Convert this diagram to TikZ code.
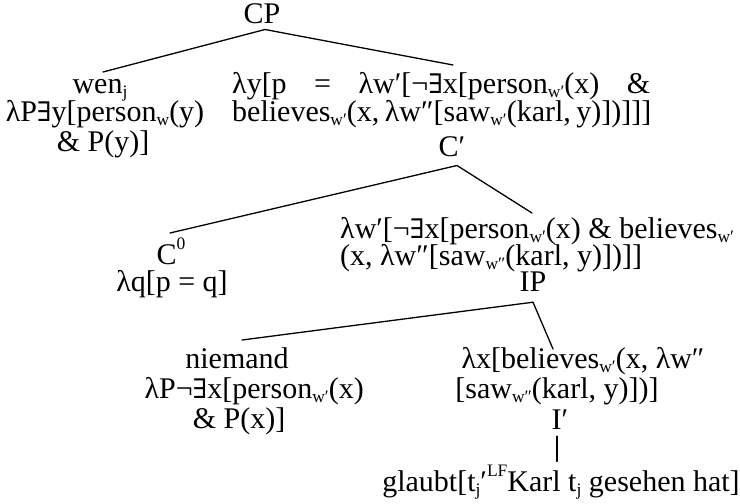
\documentclass[tikz,border=0pt]{standalone}
\usepackage{fontspec}
\setmainfont{Liberation Serif}
\newfontfamily\exfont{DejaVu Serif}[Scale=0.9]
\newcommand\lsub[1]{\raisebox{-0.16em}{\fontsize{17.5}{17.5}\selectfont #1}}
\newcommand\lsup[1]{\raisebox{0.5em}{\fontsize{17.5}{17.5}\selectfont #1}}
\newcommand\ex{{\exfont ∃}}
\newcommand\txtfont{\fontsize{30}{30}\selectfont}
\begin{document}
\begin{tikzpicture}[x=1pt,y=-1pt,
  lbl/.style={font=\txtfont, inner sep=0pt, anchor=base},
  lbll/.style={lbl, anchor=base west},
  lblr/.style={lbl, anchor=base east},
  edge/.style={line width=1.3pt, line cap=round}]
\useasboundingbox (0,0) rectangle (740,504);
% CP
\node[lbl] (cp) at (262,23) {CP};
\coordinate (cpL) at (103,72);
\coordinate (cpR) at (453,65);
% left daughter of CP
\node[lbl] (wen) at (100,93) {wen\lsub{j}};
\node[lbl] (wenA) at (105,121) {λP\ex y[person\lsub{w}(y)};
\node[lbl] (wenB) at (103,151) {\& P(y)]};
% right daughter of CP
\node[lbll] (ry1) at (232,93) {\makebox[418pt][s]{λy[p = λw′[¬\ex x[person\lsub{w′}(x) \&}};
\node[lbll] (ry2) at (232,121) {\makebox[418pt][s]{believes\lsub{w′}(x, λw″[saw\lsub{w′}(karl, y)])]]]}};
\node[lbl] (cbar) at (452,156) {C′};
\coordinate (cbL) at (170,233);
\coordinate (cbR) at (532,213);
% C0
\node[lbl] (c0) at (171,264) {C\lsup{0}};
\node[lbl] (c0a) at (172,291) {λq[p = q]};
% right daughter of C'
\node[lbll] (rw1) at (340,238) {λw′[¬\ex x[person\lsub{w′}(x) \& believes\lsub{w′}};
\node[lbll] (rw2) at (340,265) {(x, λw″[saw\lsub{w″}(karl, y)])]]};
\node[lbl] (ip) at (533,291) {IP};
\coordinate (ipL) at (242,340);
\coordinate (ipR) at (553,349);
% niemand
\node[lbl] (nie) at (237,368) {niemand};
\node[lblr] (nieA) at (364,398) {λP¬\ex x[person\lsub{w′}(x)};
\node[lbl] (nieB) at (239,428) {\& P(x)]};
% right daughter of IP
\node[lbl] (rx1) at (583,368) {λx[believes\lsub{w′}(x, λw″};
\node[lbl] (rx2) at (557,398) {[saw\lsub{w″}(karl, y)])]};
\node[lbl] (ibar) at (560,429) {I′};
\node[lbl] (gl) at (561,491) {glaubt[t\lsub{j}′\lsup{LF}Karl t\lsub{j} gesehen hat]};
% connectors
\draw[edge] ([shift={(3pt,-6pt)}]cp.south) -- (cpL);
\draw[edge] ([shift={(3pt,-6pt)}]cp.south) -- (cpR);
\draw[edge] ([shift={(5pt,-9pt)}]cbar.south) -- (cbL);
\draw[edge] ([shift={(5pt,-9pt)}]cbar.south) -- (cbR);
\draw[edge] ([shift={(0pt,-11pt)}]ip.south) -- (ipL);
\draw[edge] ([shift={(0pt,-11pt)}]ip.south) -- (ipR);
\draw[edge] ([shift={(-3pt,-7pt)}]ibar.south) -- ([shift={(-4pt,3pt)}]gl.north);
\end{tikzpicture}
\end{document}
